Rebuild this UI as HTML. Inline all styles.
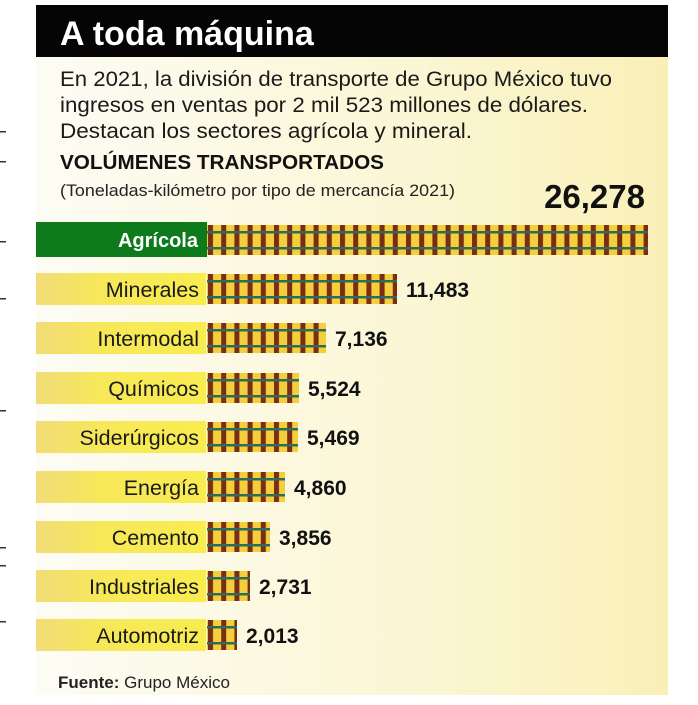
<!DOCTYPE html><html><head><meta charset="utf-8"><style>
body{margin:0;width:698px;height:700px;background:#fff;overflow:hidden;font-family:"Liberation Sans",sans-serif}
</style></head><body>
<svg width="698" height="700" xmlns="http://www.w3.org/2000/svg" font-family="Liberation Sans, sans-serif">
<defs>
<linearGradient id="bg" x1="0" x2="1"><stop offset="0" stop-color="#fdfcf4"/><stop offset="0.6" stop-color="#fbf6d4"/><stop offset="1" stop-color="#f9f0b8"/></linearGradient>
<linearGradient id="yb" x1="0" x2="1"><stop offset="0" stop-color="#f2dc78"/><stop offset="0.4" stop-color="#f7e858"/><stop offset="1" stop-color="#f9ec50"/></linearGradient>
<pattern id="ties" x="207" y="0" width="13.2" height="700" patternUnits="userSpaceOnUse"><rect x="0" y="0" width="13.2" height="700" fill="#f3cf3c"/><rect x="1" y="0" width="5" height="700" fill="#7a2c14"/></pattern>
</defs>
<rect x="36" y="5" width="632" height="690" fill="url(#bg)"/>
<rect x="36" y="5" width="632" height="52" fill="#050505"/>
<text x="60" y="45" font-size="34" font-weight="bold" fill="#fff">A toda máquina</text>
<g font-size="21.5" fill="#1a1a1a">
<text x="60" y="86" textLength="552" lengthAdjust="spacingAndGlyphs">En 2021, la división de transporte de Grupo México tuvo</text>
<text x="60" y="112" textLength="528" lengthAdjust="spacingAndGlyphs">ingresos en ventas por 2 mil 523 millones de dólares.</text>
<text x="60" y="138" textLength="412" lengthAdjust="spacingAndGlyphs">Destacan los sectores agrícola y mineral.</text>
</g>
<text x="60" y="169" font-size="20" font-weight="bold" fill="#111" textLength="324" lengthAdjust="spacingAndGlyphs">VOLÚMENES TRANSPORTADOS</text>
<text x="60" y="196" font-size="17" fill="#222" textLength="395" lengthAdjust="spacingAndGlyphs">(Toneladas-kilómetro por tipo de mercancía 2021)</text>
<text x="645" y="208" font-size="33" font-weight="bold" fill="#111" text-anchor="end">26,278</text>
<rect x="36" y="222" width="171" height="35" fill="#0d7a1c"/>
<text x="198" y="247" font-size="20" font-weight="bold" fill="#fff" text-anchor="end">Agrícola</text>
<g>
<rect x="36" y="273" width="170" height="32" fill="url(#yb)"/>
<rect x="36" y="322" width="170" height="32" fill="url(#yb)"/>
<rect x="36" y="372" width="170" height="32" fill="url(#yb)"/>
<rect x="36" y="421" width="170" height="32" fill="url(#yb)"/>
<rect x="36" y="471" width="170" height="32" fill="url(#yb)"/>
<rect x="36" y="521" width="170" height="32" fill="url(#yb)"/>
<rect x="36" y="570" width="170" height="32" fill="url(#yb)"/>
<rect x="36" y="619" width="170" height="32" fill="url(#yb)"/>
</g>
<g>
<rect x="207" y="225" width="441" height="30" fill="url(#ties)"/>
<rect x="207" y="274" width="190" height="30" fill="url(#ties)"/>
<rect x="207" y="323" width="119" height="30" fill="url(#ties)"/>
<rect x="207" y="373" width="92" height="30" fill="url(#ties)"/>
<rect x="207" y="422" width="91" height="30" fill="url(#ties)"/>
<rect x="207" y="472" width="78" height="30" fill="url(#ties)"/>
<rect x="207" y="522" width="63" height="30" fill="url(#ties)"/>
<rect x="207" y="571" width="43" height="30" fill="url(#ties)"/>
<rect x="207" y="620" width="30" height="30" fill="url(#ties)"/>
</g>
<g fill="#2f6b5a">
<rect x="207" y="231" width="441" height="2.5"/><rect x="207" y="247" width="441" height="2.5"/>
<rect x="207" y="280" width="190" height="2.5"/><rect x="207" y="296" width="190" height="2.5"/>
<rect x="207" y="329" width="119" height="2.5"/><rect x="207" y="345" width="119" height="2.5"/>
<rect x="207" y="379" width="92" height="2.5"/><rect x="207" y="395" width="92" height="2.5"/>
<rect x="207" y="428" width="91" height="2.5"/><rect x="207" y="444" width="91" height="2.5"/>
<rect x="207" y="478" width="78" height="2.5"/><rect x="207" y="494" width="78" height="2.5"/>
<rect x="207" y="528" width="63" height="2.5"/><rect x="207" y="544" width="63" height="2.5"/>
<rect x="207" y="577" width="43" height="2.5"/><rect x="207" y="593" width="43" height="2.5"/>
<rect x="207" y="626" width="30" height="2.5"/><rect x="207" y="642" width="30" height="2.5"/>
</g>
<g font-size="21.5" fill="#1a1a1a" text-anchor="end">
<text x="199" y="297">Minerales</text>
<text x="199" y="346">Intermodal</text>
<text x="199" y="396">Químicos</text>
<text x="199" y="445">Siderúrgicos</text>
<text x="199" y="495">Energía</text>
<text x="199" y="545">Cemento</text>
<text x="199" y="594">Industriales</text>
<text x="199" y="643">Automotriz</text>
</g>
<g font-size="21" font-weight="bold" fill="#111">
<text x="406" y="297">11,483</text>
<text x="335" y="346">7,136</text>
<text x="308" y="396">5,524</text>
<text x="307" y="445">5,469</text>
<text x="294" y="495">4,860</text>
<text x="279" y="545">3,856</text>
<text x="259" y="594">2,731</text>
<text x="246" y="643">2,013</text>
</g>
<text x="58" y="688" font-size="17" fill="#222"><tspan font-weight="bold">Fuente:</tspan> Grupo México</text>
<g fill="#333"><rect x="0" y="131" width="6" height="1.5"/><rect x="0" y="161" width="6" height="1.5"/><rect x="0" y="241" width="6" height="1.5"/><rect x="0" y="298" width="6" height="1.5"/><rect x="0" y="410" width="6" height="1.5"/><rect x="0" y="547" width="6" height="1.5"/><rect x="0" y="565" width="6" height="1.5"/><rect x="0" y="621" width="6" height="1.5"/></g>
</svg>
</body></html>
